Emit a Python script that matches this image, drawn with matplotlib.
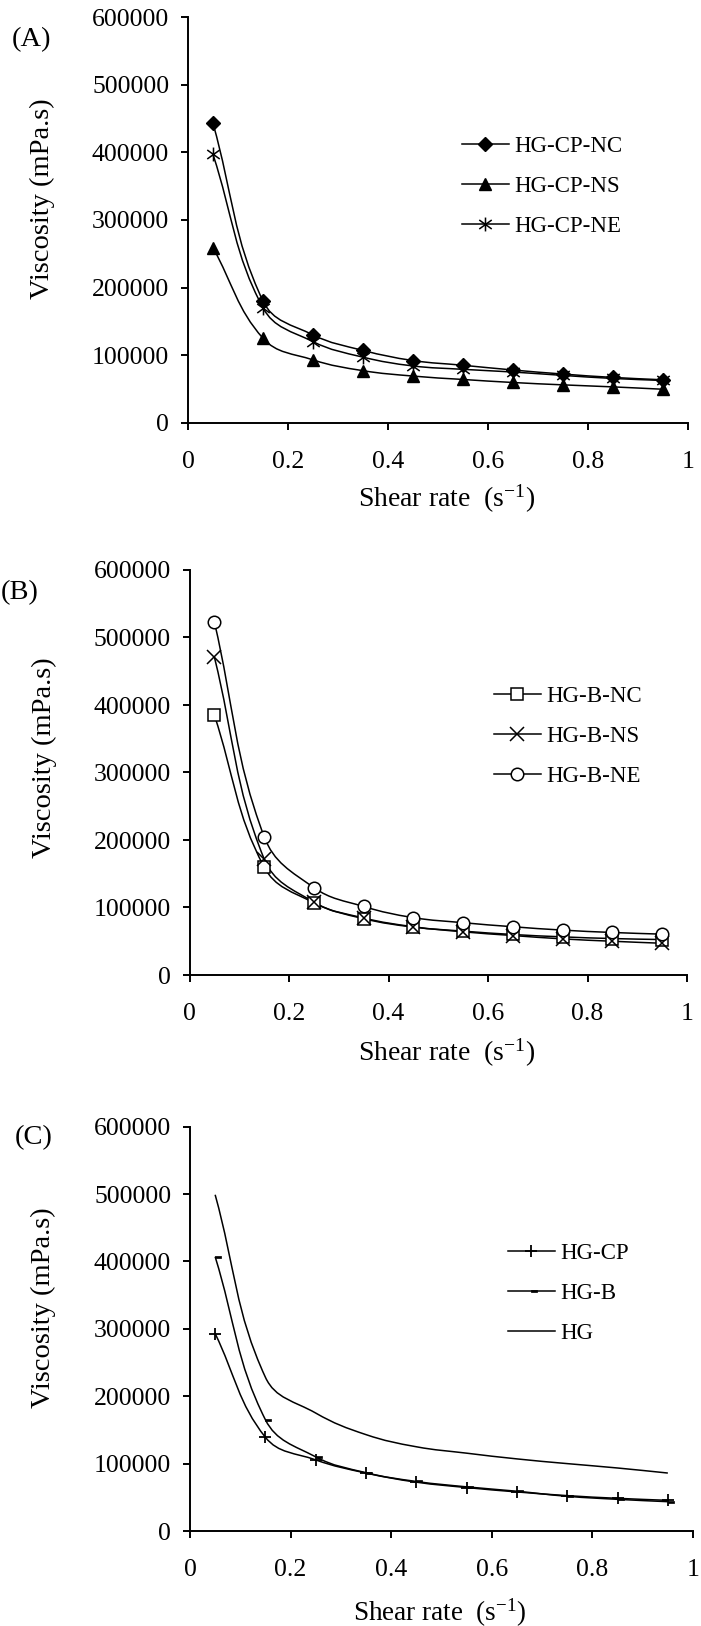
import numpy as np
import matplotlib
matplotlib.use('Agg')
import matplotlib.pyplot as plt
from matplotlib.path import Path
from matplotlib.patches import PathPatch
from matplotlib.lines import Line2D

plt.rcParams['font.family'] = ['Liberation Serif', 'DejaVu Serif']
plt.rcParams['mathtext.fontset'] = 'custom'
plt.rcParams['mathtext.rm'] = 'Liberation Serif'
plt.rcParams['mathtext.it'] = 'Liberation Serif:italic'

# ---------------- data ----------------
shear_rate = [0.05, 0.15, 0.25, 0.35, 0.45, 0.55, 0.65, 0.75, 0.85, 0.95]

# Panel A
hg_cp_nc = [443000, 180000, 130000, 107000, 92000, 85000, 78000, 72000, 67000, 63500]
hg_cp_ns = [259000, 125000, 93000, 77000, 69000, 64000, 59500, 56000, 53000, 49500]
hg_cp_ne = [397000, 170000, 120000, 97000, 84000, 79000, 75000, 70000, 65500, 62500]

# Panel B
hg_b_nc = [385000, 160000, 107000, 83500, 71000, 65000, 60000, 56500, 54000, 52500]
hg_b_ns = [471000, 172000, 108000, 84500, 71500, 64000, 58500, 53500, 50000, 47000]
hg_b_ne = [523000, 205000, 129500, 101500, 85000, 77500, 71500, 66500, 63000, 60500]

# Panel C
hg_cp = [293000, 139000, 105500, 86000, 72500, 64500, 58000, 52500, 48500, 45500]
hg_b = [407000, 165000, 110000, 86500, 73500, 65500, 59000, 51500, 47000, 43500]
hg = [499000, 228000, 175000, 143000, 125000, 115500, 107000, 100000, 93500, 86000]

labels_a = ['HG-CP-NC', 'HG-CP-NS', 'HG-CP-NE']
labels_b = ['HG-B-NC', 'HG-B-NS', 'HG-B-NE']
labels_c = ['HG-CP', 'HG-B', 'HG']
panel_tags = ['(A)', '(B)', '(C)']

x_ticks = [0, 0.2, 0.4, 0.6, 0.8, 1.0]
x_tick_labels = ['0', '0.2', '0.4', '0.6', '0.8', '1']
y_ticks = [0, 100000, 200000, 300000, 400000, 500000, 600000]
y_tick_labels = ['0', '100000', '200000', '300000', '400000', '500000', '600000']

x_label = 'Shear rate  (s$^{-1}$)'
y_label = 'Viscosity (mPa.s)'

# ---------------- figure ----------------
W, H = 701, 1626
fig = plt.figure(figsize=(W / 100, H / 100), dpi=100)


def make_axes(left, right, top, bottom):
    ax = fig.add_axes([left / W, 1 - bottom / H, (right - left) / W, (bottom - top) / H])
    ax.set_xlim(0, 1)
    ax.set_ylim(0, 600000)
    ax.set_xticks(x_ticks)
    ax.set_xticklabels(x_tick_labels)
    ax.set_yticks(y_ticks)
    ax.set_yticklabels(y_tick_labels)
    for s in ['top', 'right']:
        ax.spines[s].set_visible(False)
    for s in ['left', 'bottom']:
        ax.spines[s].set_linewidth(1.4)
    ax.tick_params(direction='out', length=5, width=1.4, labelsize=18.5)
    ax.tick_params(axis='x', pad=15.5)
    ax.tick_params(axis='y', pad=8.5)
    return ax


def smooth_line(ax, xs, ys, t=0.4, lw=1.1):
    """Excel-like smoothed line drawn as a cubic Bezier path through the data points."""
    pts = ax.transData.transform(np.column_stack([xs, ys]))
    n = len(pts)
    verts = [pts[0]]
    codes = [Path.MOVETO]
    for i in range(n - 1):
        p0 = pts[i - 1] if i > 0 else pts[i]
        p1 = pts[i]
        p2 = pts[i + 1]
        p3 = pts[i + 2] if i + 2 < n else pts[i + 1]
        d01 = np.hypot(*(p1 - p0))
        d12 = np.hypot(*(p2 - p1))
        d23 = np.hypot(*(p3 - p2))
        c1 = p1 + t * (p2 - p0) * d12 / (d01 + d12)
        c2 = p2 - t * (p3 - p1) * d12 / (d12 + d23)
        verts += [c1, c2, p2]
        codes += [Path.CURVE4] * 3
    verts = ax.transData.inverted().transform(np.array(verts))
    ax.add_patch(PathPatch(Path(verts, codes), facecolor='none', edgecolor='black',
                           lw=lw, transform=ax.transData, zorder=1.5))


star = Path([(0, -1), (0, 1), (-0.9, -0.65), (0.9, 0.65), (-0.9, 0.65), (0.9, -0.65)],
            [Path.MOVETO, Path.LINETO, Path.MOVETO, Path.LINETO, Path.MOVETO, Path.LINETO])
dash = Path([(0, -0.22), (1, -0.22), (1, 0.22), (0, 0.22), (0, -0.22)],
            [Path.MOVETO, Path.LINETO, Path.LINETO, Path.LINETO, Path.CLOSEPOLY])

styles_a = [dict(marker='D', ms=7, mfc='black', mec='black'),
            dict(marker='^', ms=9, mfc='black', mec='black'),
            dict(marker=star, ms=10, mfc='none', mec='black', mew=1.1)]
styles_b = [dict(marker='s', ms=9.3, mfc='white', mec='black', mew=1.1),
            dict(marker='x', ms=9.5, mfc='none', mec='black', mew=1.1),
            dict(marker='o', ms=9, mfc='white', mec='black', mew=1.1)]
styles_c = [dict(marker='+', ms=8, mec='black', mew=1.3),
            dict(marker=dash, ms=8.8, mfc='black', mec='black', mew=0.5),
            dict(marker='None')]


def panel(ax, series, labels, styles, leg_x, leg_y, tag, tag_x, tag_y,
          xl_x, xl_y, yl_x, yl_y, xl_size=20):
    for ys in series:
        smooth_line(ax, shear_rate, ys)
    handles = []
    for ys, st in zip(series, styles):
        ax.plot(shear_rate, ys, linestyle='none', color='black', zorder=2, **st)
        handles.append(Line2D([], [], color='black', lw=1.1, **st))
    ax.legend(handles, labels, loc='upper left',
              bbox_to_anchor=(leg_x / W, 1 - leg_y / H), bbox_transform=fig.transFigure,
              frameon=False, fontsize=16.5, handlelength=2.05, handletextpad=0.25,
              labelspacing=0.82, borderpad=0, borderaxespad=0, numpoints=1)
    ax.set_xlabel(x_label, fontsize=xl_size)
    ax.set_ylabel(y_label, fontsize=20.5)
    ax.xaxis.set_label_coords(xl_x, xl_y)
    ax.yaxis.set_label_coords(yl_x, yl_y)
    fig.text(tag_x / W, 1 - tag_y / H, tag, fontsize=20.5, ha='left', va='center')


ax_a = make_axes(188, 688, 17.3, 422.7)
panel(ax_a, [hg_cp_nc, hg_cp_ns, hg_cp_ne], labels_a, styles_a,
      462, 136, panel_tags[0], 12, 40, 0.517, -0.148, -0.266, 0.552)

ax_b = make_axes(189.5, 687, 570, 975)
panel(ax_b, [hg_b_nc, hg_b_ns, hg_b_ne], labels_b, styles_b,
      494, 686, panel_tags[1], 1, 593, 0.517, -0.153, -0.266, 0.537)

ax_c = make_axes(190, 693, 1126.7, 1531)
panel(ax_c, [hg_cp, hg_b, hg], labels_c, styles_c,
      508, 1243, panel_tags[2], 15, 1138, 0.497, -0.163, -0.266, 0.552, xl_size=19.5)

fig.savefig('out.png', dpi=100)
